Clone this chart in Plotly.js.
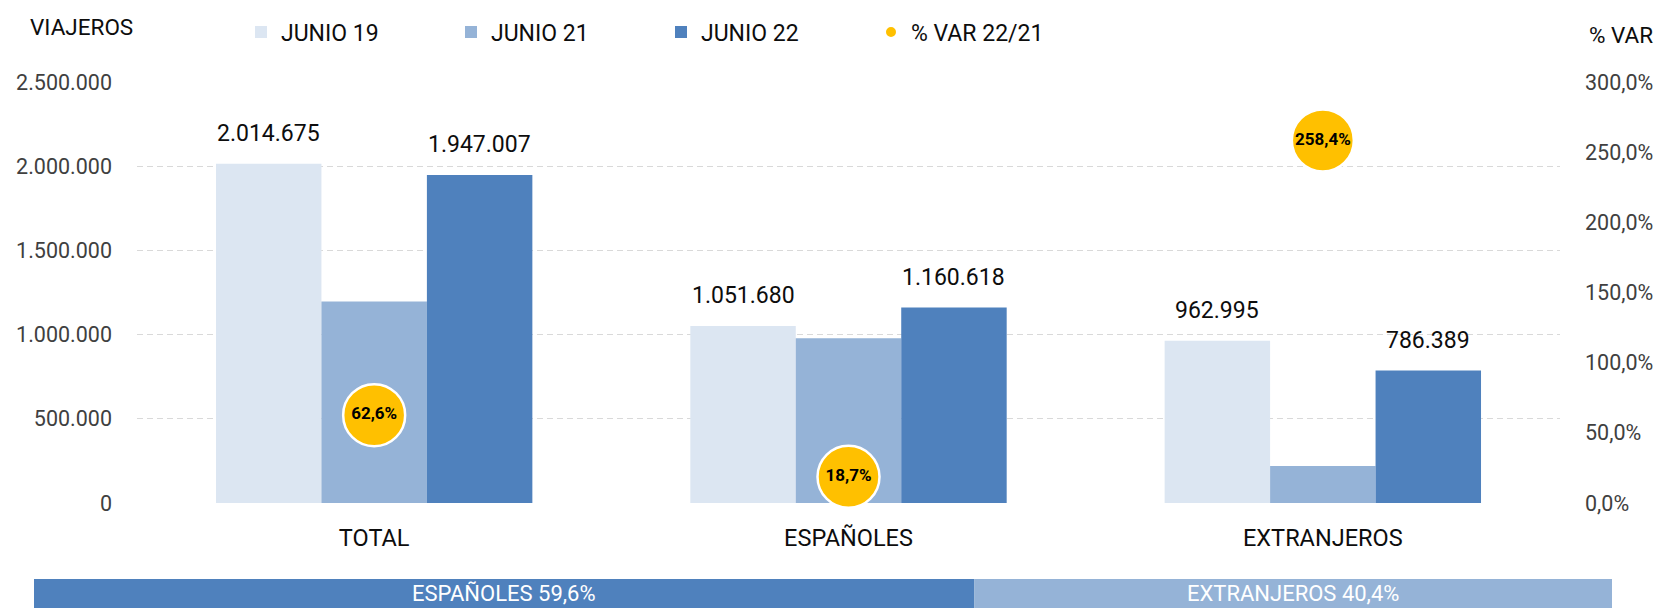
<!DOCTYPE html>
<html>
<head>
<meta charset="utf-8">
<script src="https://cdn.plot.ly/plotly-3.0.1.min.js"></script>
<style>
  html, body { margin: 0; padding: 0; background: #ffffff; }
  #chart { width: 1661px; height: 608px; }
</style>
</head>
<body>
<div id="chart"></div>
<script>
// ---- data ----
const categories = ['TOTAL', 'ESPAÑOLES', 'EXTRANJEROS'];
const seriesNames = ['JUNIO 19', 'JUNIO 21', 'JUNIO 22'];
const junio19 = [2014675, 1051680, 962995];
const junio21 = [1197191, 977774, 219417];
const junio22 = [1947007, 1160618, 786389];
const varName = '% VAR 22/21';
const varPct = [62.6, 18.7, 258.4];
const shareLabels = ['ESPAÑOLES', 'EXTRANJEROS'];
const shareValues = [59.6, 40.4];
const leftTitle = 'VIAJEROS';
const rightTitle = '% VAR';

// ---- layout helpers (pixel geometry of the page) ----
const W = 1661, H = 608;
const L = 137, R = 1560, T = 80.5, B = 502.7;
const px2x = p => (p - L) / (R - L);
const px2y = p => (B - p) / (B - T);

const FONT = 'Roboto, "Open Sans", sans-serif';
const colors = ['#DCE6F2', '#95B3D7', '#4F81BD'];
const gold = '#FFC000';

const fmtInt = n => String(Math.round(n)).replace(/\B(?=(\d{3})+(?!\d))/g, '.');
const fmtPct = v => v.toFixed(1).replace('.', ',') + '%';

const seriesVals = [junio19, junio21, junio22];

const traces = seriesVals.map((vals, i) => ({
  type: 'bar',
  name: seriesNames[i],
  x: categories,
  y: vals,
  marker: { color: colors[i], line: { width: 0 } },
  hoverinfo: 'x+y+name'
}));

traces.push({
  type: 'scatter',
  mode: 'markers+text',
  name: varName,
  x: categories,
  y: varPct,
  yaxis: 'y2',
  text: varPct.map(fmtPct),
  textposition: 'middle center',
  textfont: { family: FONT, size: 17, color: '#000000', weight: 'bold' },
  marker: { color: gold, size: 62, line: { color: '#ffffff', width: 2.5 } },
  cliponaxis: false
});

// value labels above bars
const annotations = [];
const nSeries = seriesVals.length;
const groupWidth = 1 - 0.333;
const barW = groupWidth / nSeries;
seriesVals.forEach((vals, si) => {
  vals.forEach((v, ci) => {
    if (si === 1) return; // JUNIO 21 not labelled
    annotations.push({
      xref: 'x', yref: 'y',
      x: ci + (si - (nSeries - 1) / 2) * barW,
      y: v,
      text: fmtInt(v),
      showarrow: false,
      xanchor: 'center', yanchor: 'bottom',
      yshift: 15,
      font: { family: FONT, size: 23, color: '#0d0d0d' }
    });
  });
});

// axis titles
annotations.push({
  xref: 'paper', yref: 'paper', x: px2x(81), y: px2y(25),
  xanchor: 'center', yanchor: 'middle', showarrow: false,
  text: leftTitle, font: { family: FONT, size: 22.5, color: '#0d0d0d' }
});
annotations.push({
  xref: 'paper', yref: 'paper', x: px2x(1621), y: px2y(33),
  xanchor: 'center', yanchor: 'middle', showarrow: false,
  text: rightTitle, font: { family: FONT, size: 22.5, color: '#0d0d0d' }
});

// bottom share band
const bandL = 34, bandR = 1612, bandTop = 579, bandBot = 620;
const shapes = [];
const shareColors = ['#4F81BD', '#95B3D7'];
const total = shareValues.reduce((a, b) => a + b, 0);
let acc = 0;
shareValues.forEach((s, i) => {
  const x0 = bandL + (bandR - bandL) * acc / total;
  acc += s;
  const x1 = bandL + (bandR - bandL) * acc / total;
  shapes.push({
    type: 'rect', xref: 'paper', yref: 'paper', layer: 'above',
    x0: px2x(x0), x1: px2x(x1), y0: px2y(bandBot), y1: px2y(bandTop),
    fillcolor: shareColors[i], line: { width: 0 }
  });
  annotations.push({
    xref: 'paper', yref: 'paper', x: px2x((x0 + x1) / 2), y: px2y(593),
    xanchor: 'center', yanchor: 'middle', showarrow: false,
    text: shareLabels[i] + ' ' + fmtPct(s),
    font: { family: FONT, size: 22, color: '#ffffff' }
  });
});

const layout = {
  width: W, height: H,
  margin: { l: L, r: W - R, t: T, b: H - B, pad: 0 },
  paper_bgcolor: '#ffffff',
  plot_bgcolor: '#ffffff',
  separators: ',.',
  font: { family: FONT, color: '#0d0d0d' },
  barmode: 'group',
  bargap: 0.333,
  bargroupgap: 0,
  showlegend: true,
  legend: {
    orientation: 'h',
    x: px2x(241), xanchor: 'left',
    y: px2y(10), yanchor: 'top',
    font: { family: FONT, size: 23, color: '#0d0d0d' },
    entrywidth: 165, entrywidthmode: 'pixels',
    itemsizing: 'constant',
    traceorder: 'normal',
    bgcolor: 'rgba(0,0,0,0)'
  },
  xaxis: {
    type: 'category',
    showgrid: false, zeroline: false, showline: false,
    ticks: '',
    tickfont: { family: FONT, size: 23.5, color: '#0d0d0d' },
    ticklabelstandoff: 18,
    fixedrange: true
  },
  yaxis: {
    range: [0, 2500000],
    dtick: 500000,
    tickformat: ',d',
    showgrid: true,
    gridcolor: '#D9D9D9',
    griddash: '6px,4px',
    gridwidth: 1,
    zeroline: false, showline: false,
    ticks: '',
    ticklabelstandoff: 24,
    tickfont: { family: FONT, size: 21.5, color: '#404040' },
    fixedrange: true
  },
  yaxis2: {
    overlaying: 'y',
    side: 'right',
    range: [0, 300],
    dtick: 50,
    tickformat: '.1f',
    ticksuffix: '%',
    showgrid: false, zeroline: false, showline: false,
    ticks: '',
    ticklabelstandoff: 24,
    tickfont: { family: FONT, size: 21.5, color: '#404040' },
    fixedrange: true
  },
  annotations: annotations,
  shapes: shapes
};

Plotly.newPlot('chart', traces, layout, { displayModeBar: false, staticPlot: true });
</script>
</body>
</html>
